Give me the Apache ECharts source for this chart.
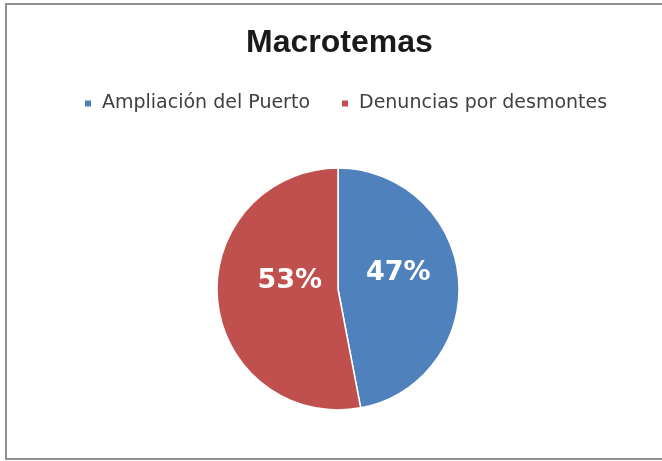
<!DOCTYPE html>
<html>
<head>
<meta charset="utf-8">
<style>
  html, body { margin: 0; padding: 0; background: #fff; }
  #chart { width: 662px; height: 461px; }
</style>
<script src="https://cdn.jsdelivr.net/npm/echarts@6/dist/echarts.min.js"></script>
</head>
<body>
<div id="chart"></div>
<script>
// Share of coverage by macro-topic
const categories = ['Ampliación del Puerto', 'Denuncias por desmontes'];
const shares = [47, 53];
const sliceColors = ['#4F81BD', '#C0504D'];
// nudges that move each percentage label inside its slice
const labelNudges = [[-3, -10], [15, -14]];

const chart = echarts.init(document.getElementById('chart'), null, { renderer: 'canvas' });

const pieData = categories.map((name, i) => ({
  name: name,
  value: shares[i],
  itemStyle: { color: sliceColors[i] },
  label: { offset: labelNudges[i] }
}));

chart.setOption({
  backgroundColor: '#ffffff',
  animation: false,
  graphic: [{
    type: 'rect',
    shape: { x: 6, y: 4, width: 680, height: 455 },
    style: { fill: 'none', stroke: '#8f8f8f', lineWidth: 2 },
    silent: true,
    z: -10
  }],
  title: {
    text: 'Macrotemas',
    left: 241,
    top: 22,
    textStyle: {
      fontFamily: 'Liberation Sans',
      fontWeight: 'bold',
      fontSize: 32,
      color: '#1a1a1a'
    }
  },
  legend: {
    data: categories,
    left: 78,
    top: 89,
    icon: 'rect',
    itemWidth: 8,
    itemHeight: 8,
    itemGap: 30,
    textStyle: {
      fontFamily: 'DejaVu Sans',
      fontSize: 19,
      color: '#404040',
      padding: [0, 0, 0, 5]
    }
  },
  series: [{
    type: 'pie',
    center: [338, 289],
    radius: 121,
    startAngle: 90,
    clockwise: true,
    data: pieData,
    itemStyle: { borderColor: '#ffffff', borderWidth: 1.5 },
    label: {
      show: true,
      position: 'inside',
      formatter: '{d}%',
      color: '#ffffff',
      fontFamily: 'DejaVu Sans',
      fontWeight: 'bold',
      fontSize: 27
    },
    labelLine: { show: false },
    emphasis: { disabled: true }
  }]
});
</script>
</body>
</html>
